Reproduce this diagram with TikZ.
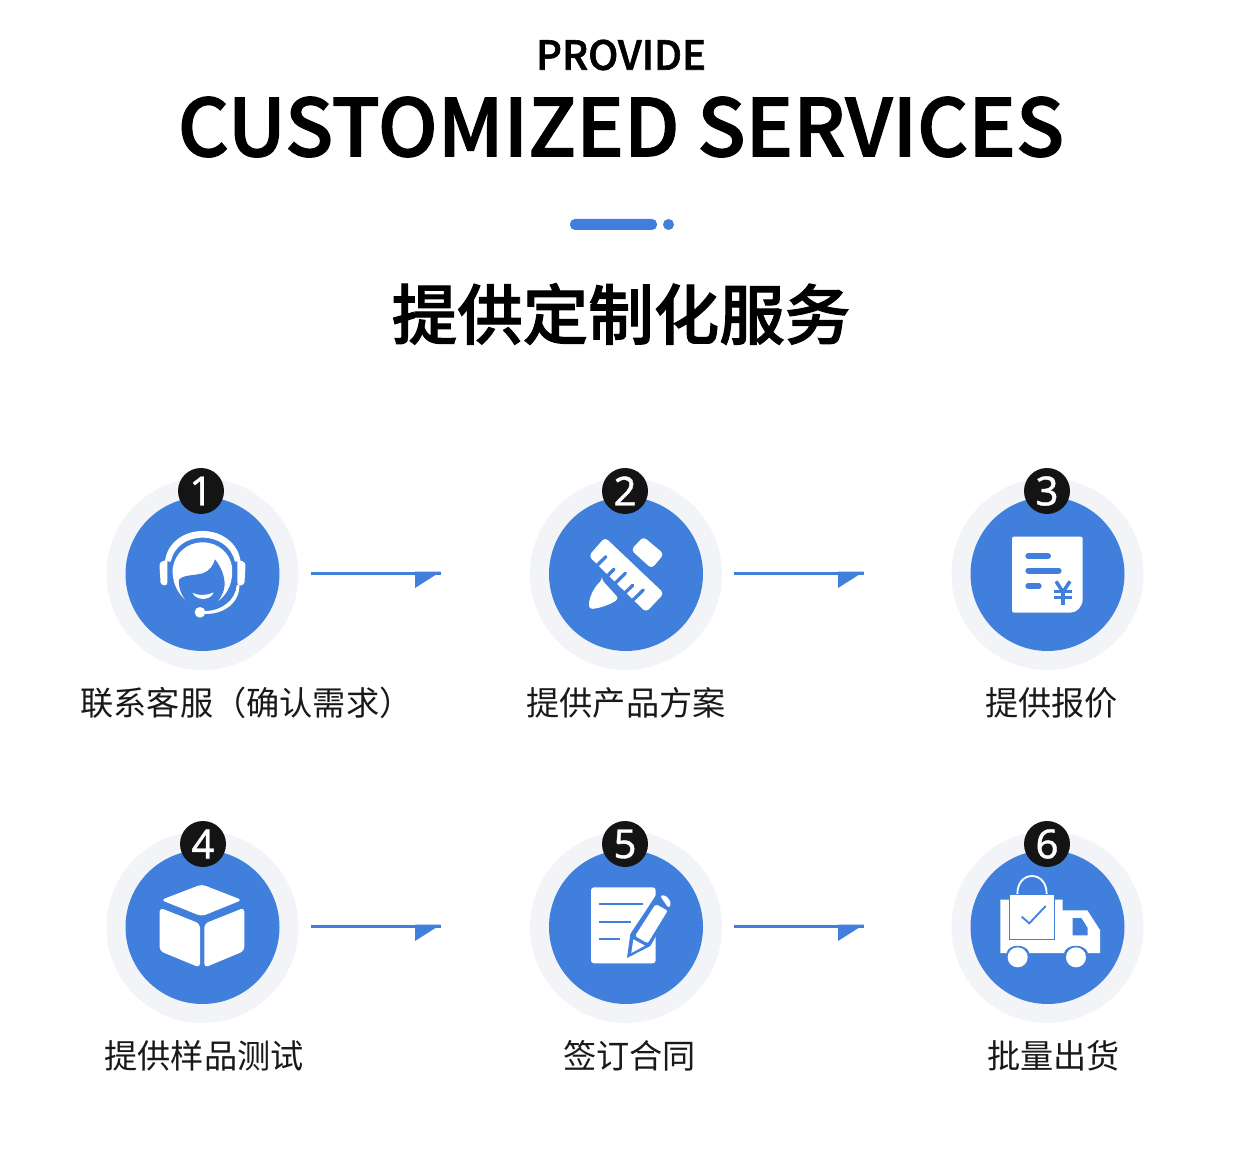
\documentclass[tikz,border=0pt]{standalone}
\usepackage{fontspec}
\setmainfont{Noto Sans CJK SC}
\newfontfamily\medfont[FakeBold=1.5]{Noto Sans CJK SC Medium}
\newfontfamily\digitfont[FakeBold=1]{Noto Sans}
\definecolor{brandblue}{HTML}{4080DC}
\definecolor{ringgray}{HTML}{F2F4F7}
\definecolor{badgeblack}{HTML}{141414}
\tikzset{
  ringdisc/.style={circle,fill=ringgray,minimum size=192pt,inner sep=0pt},
  bluedisc/.style={circle,fill=brandblue,minimum size=154pt,inner sep=0pt},
  badgedisc/.style={circle,fill=badgeblack,minimum size=46pt,inner sep=0pt,text=white,font=\fontsize{40}{40}\selectfont\digitfont},
  steplabel/.style={font=\fontsize{33.2}{38}\selectfont,text=black!90,inner sep=0pt},
  flowline/.style={draw=brandblue,line width=3pt},
  flowhead/.style={fill=brandblue},
}
\begin{document}
\begin{tikzpicture}[x=1pt,y=-1pt]
\useasboundingbox[fill=white] (0,0) rectangle (1259,1155);
\node[inner sep=0pt,font=\fontsize{40}{40}\selectfont\medfont] (provide) at (621,55) {PROVIDE};
\node[inner sep=0pt,font=\fontsize{79.4}{80}\selectfont\medfont] (custom) at (621,127) {CUSTOMIZED SERVICES};
\fill[brandblue,rounded corners=5pt] (570,219) rectangle (657,230);
\fill[brandblue] (668.500,224.500) circle (5.500);
\node[inner sep=0pt,font=\fontsize{65.5}{66}\selectfont\medfont] (cntitle) at (621,314) {提供定制化服务};

\foreach \nm/\cx/\cy/\bx/\by/\num in {a/202.5/574/201/491/1,b/626/574/625/491/2,c/1047.5/574/1047/491/3,d/202.5/927/203/844/4,e/626/927/625/844/5,f/1047.5/927/1047/844/6}{
  \node[ringdisc] (ring\nm) at (\cx,\cy) {};
  \node[bluedisc] (disc\nm) at (\cx,\cy) {};
  \node[badgedisc] (badge\nm) at (\bx,\by) {\raisebox{-1pt}{\num}};
}

\node[steplabel] (la) at (246.500,703) {联系客服（确认需求）};
\node[steplabel] (lb) at (626,703) {提供产品方案};
\node[steplabel] (lc) at (1051.500,703) {提供报价};
\node[steplabel] (ld) at (204,1056) {提供样品测试};
\node[steplabel] (le) at (629.500,1056) {签订合同};
\node[steplabel] (lf) at (1053.500,1056) {批量出货};

% arrows
\foreach \xs/\ys/\xe/\xh in {311/573/441/415,734/573/864/838,311/926/441/415,734/926/864/838}{
  \coordinate (arrs) at (\xs,\ys);
  \coordinate (arre) at (\xe,\ys);
  \draw[flowline] (arrs) -- (arre);
  \fill[flowhead] (\xh,\ys-1.5) -- (\xe,\ys-1.5) -- (\xh,\ys+15) -- cycle;
}

% icon 1 headset
\begin{scope}[shift={(150,525)},scale=1/3]
  \fill[white] (45,110) .. controls (50,55) and (100,18) .. (158,18) .. controls (216,18) and (265,55) .. (272,110) -- (255,110) .. controls (245,65) and (205,38) .. (158,38) .. controls (110,38) and (72,65) .. (62,110) -- cycle;
  \fill[white,rounded corners=3pt] (28,112) -- (52,104) -- (52,182) -- (32,180) -- cycle;
  \fill[white,rounded corners=3pt] (262,104) -- (287,112) -- (283,180) -- (262,182) -- cycle;
  \fill[white] (115,232) .. controls (80,205) and (66,170) .. (68,130) .. controls (75,85) and (110,52) .. (158,52) .. controls (205,52) and (240,85) .. (246,125) .. controls (250,170) and (235,205) .. (205,228) -- cycle;
  \fill[brandblue] (115,234) .. controls (95,215) and (85,190) .. (87,165) .. controls (95,150) and (130,152) .. (158,145) .. controls (178,138) and (190,122) .. (195,103) .. controls (212,125) and (224,150) .. (224,180) .. controls (222,200) and (215,215) .. (203,230) .. controls (180,250) and (140,250) .. (115,234) -- cycle;
  \fill[white] (128,204) .. controls (145,212) and (172,212) .. (191,202) .. controls (182,228) and (138,228) .. (128,204) -- cycle;
  \fill[white] (260,180) .. controls (258,225) and (215,258) .. (165,258) -- (165,267) .. controls (225,268) and (270,230) .. (268,180) -- cycle;
  \fill[white] (150,262) circle (16);
\end{scope}

% icon 2 ruler and pencil
\begin{scope}[shift={(580,530)},scale=1/3]
  \fill[white,rounded corners=4pt] (75,22) -- (252,190) -- (198,247) -- (26,78) -- cycle;
  \fill[white,rounded corners=4pt] (190,20) -- (252,72) -- (215,116) -- (153,60) -- cycle;
  \fill[white,rounded corners=3pt] (66,150) -- (116,205) .. controls (95,222) and (60,235) .. (28,237) .. controls (25,205) and (42,172) .. (66,150) -- cycle;
  \foreach \tx/\ty/\tl in {78/80/44,102/118/30,136/130/44,158/166/30,190/180/44}{
    \draw[brandblue,line width=3.300pt,line cap=round] (\tx,\ty) -- ++(-\tl*0.72,\tl*0.70);
  }
\end{scope}

% icon 3 note
\begin{scope}[shift={(940,460)},scale=1/3]
  \fill[white,rounded corners=2pt] (216,230) -- (428,230) -- (428,412) .. controls (428,440) and (410,458) .. (385,458) -- (216,458) -- cycle;
  \draw[brandblue,line width=6pt,line cap=round] (265,288) -- (324,288);
  \draw[brandblue,line width=6pt,line cap=round] (265,332) -- (356,332);
  \draw[brandblue,line width=6pt,line cap=round] (265,378) -- (296,378);
  \draw[brandblue,line width=3.500pt] (348,364) -- (369,396) -- (390,364);
  \draw[brandblue,line width=3.500pt] (369,396) -- (369,436);
  \draw[brandblue,line width=3pt] (343,396) -- (395,396);
  \draw[brandblue,line width=3pt] (343,414) -- (395,414);
\end{scope}

% icon 4 cube
\begin{scope}[shift={(90,815)},scale=1/3]
  \fill[white,rounded corners=4pt] (335,208) -- (456,255) -- (335,304) -- (213,255) -- cycle;
  \fill[white,rounded corners=4pt] (209,278) -- (330,326) -- (330,458) -- (209,408) -- cycle;
  \fill[white,rounded corners=4pt] (343,326) -- (463,278) -- (463,408) -- (343,458) -- cycle;
\end{scope}

% icon 5 document and pen
\begin{scope}[shift={(585,880)},scale=1/3]
  \fill[white,rounded corners=3pt] (18,22) rectangle (212,250);
  \draw[brandblue,line width=2.300pt] (42,72) -- (175,72);
  \draw[brandblue,line width=2.300pt] (42,125) -- (138,125);
  \draw[brandblue,line width=2.300pt] (42,176) -- (104,176);
  \fill[brandblue] (205,58) -- (222,30) -- (272,65) -- (196,198) -- (126,234) -- (136,162) -- cycle;
  \fill[white,rounded corners=2pt] (212,72) -- (248,92) -- (188,190) -- (150,168) -- cycle;
  \fill[white,rounded corners=3pt] (224,46) -- (243,46) -- (259,68) -- (252,86) -- cycle;
  \fill[white] (145,178) -- (180,197) -- (139,219) -- cycle;
\end{scope}

% icon 6 truck with bag
\begin{scope}[shift={(940,815)},scale=1/3]
  \fill[white] (181,254) -- (368,254) -- (368,286) -- (442,286) -- (480,345) -- (480,414) -- (181,414) -- cycle;
  \fill[brandblue] (398,309) -- (424,309) -- (443,339) -- (443,361) -- (398,361) -- cycle;
  \fill[brandblue] (200,414) .. controls (205,385) and (260,385) .. (268,414) -- cycle;
  \fill[brandblue] (372,414) .. controls (380,385) and (435,385) .. (444,414) -- cycle;
  \fill[white] (233,427) circle (30);
  \fill[white] (408,427) circle (30);
  \fill[white,draw=brandblue,line width=1.100pt] (209,237) rectangle (344,374);
  \draw[white,line width=1.800pt] (232,237) .. controls (232,165) and (320,165) .. (320,237);
  \draw[brandblue,line width=1.800pt] (245,305) -- (268,325) -- (317,273);
\end{scope}
\end{tikzpicture}
\end{document}
